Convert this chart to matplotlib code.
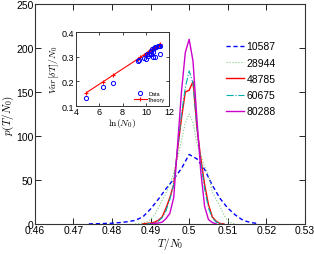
import matplotlib
matplotlib.use("Agg")
import matplotlib.pyplot as plt

plt.rcParams['font.family'] = ['Liberation Sans', 'DejaVu Sans']
plt.rcParams['mathtext.fontset'] = 'cm'

# main panel: distributions p(T/N0)
labels = ['10587', '28944', '48785', '60675', '80288']

x_10587 = [0.474, 0.476, 0.478, 0.480, 0.482, 0.484, 0.486, 0.488, 0.490, 0.492, 0.494, 0.496,
           0.498, 0.500, 0.502, 0.504, 0.506, 0.508, 0.510, 0.512, 0.514, 0.516, 0.518]
p_10587 = [0, 0.2, 0.5, 0.8, 1.5, 2.5, 4, 8, 17, 28, 40, 51, 63, 79, 74, 62, 44, 29, 18, 10, 4, 1.5, 0.3]

x_28944 = [0.486, 0.487, 0.488, 0.489, 0.490, 0.491, 0.492, 0.493, 0.494, 0.495, 0.496, 0.497, 0.498,
           0.499, 0.500, 0.501, 0.502, 0.503, 0.504, 0.505, 0.506, 0.507, 0.508, 0.509, 0.510, 0.511, 0.512]
p_28944 = [0, 0.5, 1, 2, 5, 10, 18, 27, 35, 45, 58, 75, 95,
           115, 125, 115, 92, 78, 65, 56, 36, 28, 20, 10, 4, 1, 0]

x_48785 = [0.488, 0.489, 0.490, 0.491, 0.492, 0.493, 0.494, 0.495, 0.496, 0.497, 0.498,
           0.499, 0.500, 0.501, 0.502, 0.503, 0.504, 0.505, 0.506, 0.507, 0.508, 0.509]
p_48785 = [0, 0.5, 1, 2, 4, 8, 18, 30, 45, 85, 120, 150, 152, 162, 110, 75, 45, 22, 8, 3, 0.5, 0]

x_60675 = [0.489, 0.490, 0.491, 0.492, 0.493, 0.494, 0.495, 0.496, 0.497, 0.498, 0.499,
           0.500, 0.501, 0.502, 0.503, 0.504, 0.505, 0.506, 0.507, 0.508, 0.509]
p_60675 = [0, 0.5, 1, 3, 7, 15, 28, 45, 85, 125, 155, 174, 160, 110, 70, 40, 18, 7, 2, 0.5, 0]

x_80288 = [0.490, 0.491, 0.492, 0.493, 0.494, 0.495, 0.496, 0.497, 0.498, 0.499,
           0.500, 0.501, 0.502, 0.503, 0.504, 0.505, 0.506, 0.507]
p_80288 = [0, 0.5, 1, 2, 6, 12, 30, 90, 150, 195, 210, 185, 120, 60, 20, 5, 1.5, 0]

# inset: variance vs ln(N0)
lnN_theory = [4.9, 6.3, 7.2, 9.3, 9.5, 9.8, 10.0, 10.2, 10.3, 10.4, 10.5, 10.6, 10.7, 10.8, 10.9, 11.0, 11.1, 11.2]
var_theory = [0.155, 0.198, 0.226, 0.291, 0.298, 0.307, 0.313, 0.319, 0.322, 0.326, 0.329, 0.332,
              0.335, 0.338, 0.341, 0.344, 0.347, 0.350]
lnN_data = [4.9, 6.3, 7.2, 9.3, 9.4, 9.8, 10.0, 10.1, 10.2, 10.3, 10.4, 10.4, 10.5, 10.6, 10.6,
            10.7, 10.8, 10.8, 10.9, 11.0, 11.1, 11.2, 11.2]
var_data = [0.133, 0.177, 0.195, 0.283, 0.285, 0.295, 0.290, 0.310, 0.305, 0.310, 0.310, 0.325, 0.330,
            0.300, 0.320, 0.335, 0.340, 0.300, 0.340, 0.345, 0.345, 0.310, 0.345]

fig = plt.figure(figsize=(3.14, 2.55), dpi=100)
ax = fig.add_axes([0.111, 0.118, 0.86, 0.862])

ax.plot(x_10587, p_10587, color='blue', ls=(0, (3, 2)), lw=1.0, label=labels[0])
ax.plot(x_28944, p_28944, color='#7fc97f', ls=':', lw=0.8, label=labels[1])
ax.plot(x_48785, p_48785, color='red', ls='-', lw=1.0, label=labels[2])
ax.plot(x_60675, p_60675, color='#00b0b0', ls='-.', lw=0.8, label=labels[3])
ax.plot(x_80288, p_80288, color='#cc00cc', ls='-', lw=1.0, label=labels[4])

ax.set_xlim(0.46, 0.53)
ax.set_ylim(0, 250)
ax.set_xticks([0.46, 0.47, 0.48, 0.49, 0.5, 0.51, 0.52, 0.53])
ax.set_xticklabels(['0.46', '0.47', '0.48', '0.49', '0.5', '0.51', '0.52', '0.53'])
ax.set_yticks([0, 50, 100, 150, 200, 250])
ax.tick_params(direction='in', top=True, right=True, labelsize=7.5, length=4, width=0.6, pad=1)
for s in ax.spines.values():
    s.set_linewidth(0.8)
    s.set_color('#333333')
ax.set_xlabel(r'$T/N_0$', fontsize=8, labelpad=0)
ax.set_ylabel(r'$p(T/N_0)$', fontsize=8, labelpad=0)
leg = ax.legend(loc='upper left', bbox_to_anchor=(0.708, 0.83), frameon=False, fontsize=7.5,
                handlelength=1.75, handletextpad=0.2, labelspacing=0.6, borderaxespad=0, borderpad=0)

# inset
ins = fig.add_axes([0.242, 0.58, 0.297, 0.29])
ins.plot(lnN_theory, var_theory, color='red', marker='+', ms=3, mew=0.8, lw=0.8, label='Theory', zorder=2)
ins.plot(lnN_data, var_data, ls='none', marker='o', mfc='none', mec='blue', ms=3, mew=0.7, label='Data', zorder=3)
ins.set_xlim(4, 12)
ins.set_ylim(0.1, 0.4)
ins.set_xticks([4, 6, 8, 10, 12])
ins.set_yticks([0.1, 0.2, 0.3, 0.4])
ins.tick_params(direction='in', top=True, right=True, labelsize=6.5, length=2.5, width=0.5, pad=1)
for s in ins.spines.values():
    s.set_linewidth(0.7)
    s.set_color('#333333')
ins.set_xlabel(r'$\ln(N_0)$', fontsize=7, labelpad=0)
ins.set_ylabel(r'$Var[\delta T]/N_0$', fontsize=7, labelpad=1)
h, l = ins.get_legend_handles_labels()
ins.legend([h[1], h[0]], [l[1], l[0]], loc='lower right', frameon=False, fontsize=4,
           handlelength=2.2, handletextpad=0.3, labelspacing=0.2, borderaxespad=0.3)

fig.savefig('out.png', dpi=100)
